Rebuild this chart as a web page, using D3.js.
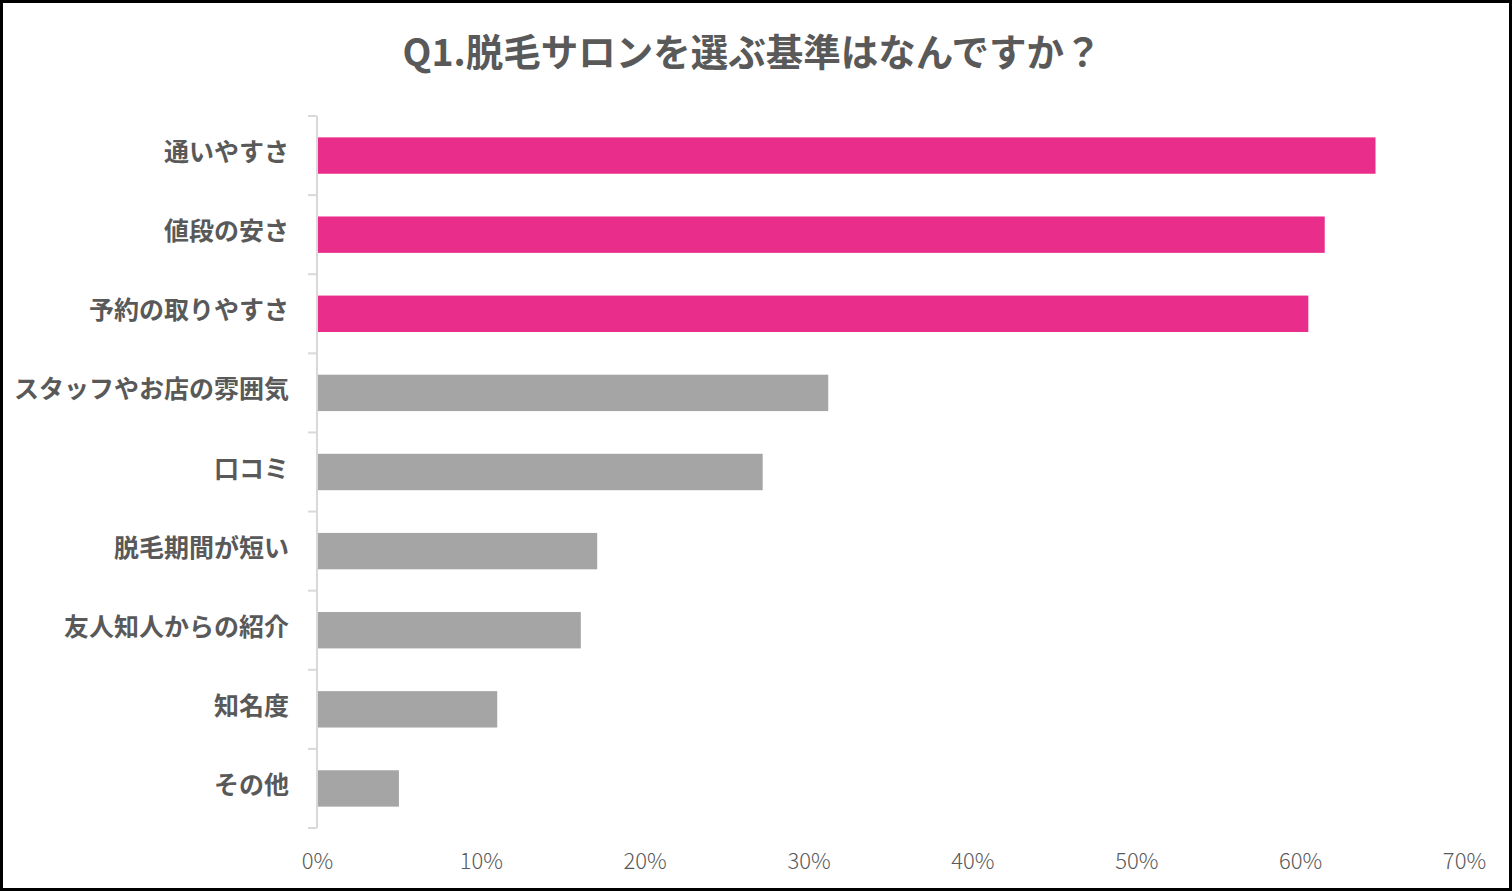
<!DOCTYPE html>
<html>
<head>
<meta charset="utf-8">
<script src="https://cdn.jsdelivr.net/npm/d3@7"></script>
<style>
  html, body { margin: 0; padding: 0; background: #fff; }
  .frame { fill: #fff; stroke: #000; stroke-width: 3; }
  .title { font-family: "Noto Sans CJK JP"; font-weight: 700; font-size: 37.5px; fill: #595959; }
  .cat text { font-family: "Noto Sans CJK JP"; font-weight: 700; font-size: 25px; fill: #595959; }
  .xaxis text { font-family: "Noto Sans CJK JP"; font-weight: 300; font-size: 22px; fill: #595959; }
</style>
</head>
<body>
<script>
(function(){

//chart data
var categories = ["通いやすさ", "値段の安さ", "予約の取りやすさ", "スタッフやお店の雰囲気", "口コミ", "脱毛期間が短い", "友人知人からの紹介", "知名度", "その他"];
var values = [64.6, 61.5, 60.5, 31.2, 27.2, 17.1, 16.1, 11.0, 5.0];
var highlighted = [true, true, true, false, false, false, false, false, false];
var xTicks = [0, 10, 20, 30, 40, 50, 60, 70];
var titleText = "Q1.脱毛サロンを選ぶ基準はなんですか？";

var width = 1512,
    height = 891;

var svg = d3.select("body")
    .append("svg")
    .attr("width", width)
    .attr("height", height);

//outer frame
svg.append("rect")
    .attr("class", "frame")
    .attr("x", 1.5)
    .attr("y", 1.5)
    .attr("width", width - 3)
    .attr("height", height - 3);

svg.append("text")
    .attr("class", "title")
    .attr("x", 752)
    .attr("y", 66)
    .attr("text-anchor", "middle")
    .text(titleText);

var x = d3.scaleLinear()
    .domain([0, 70])
    .range([317, 1464]);

var y = d3.scaleBand()
    .domain(categories)
    .range([116, 828])
    .paddingInner(0.54)
    .paddingOuter(0.27);

//bars
svg.selectAll(".bar")
    .data(categories)
    .enter()
    .append("rect")
    .attr("class", "bar")
    .attr("x", x(0))
    .attr("y", function(d){ return y(d); })
    .attr("width", function(d, i){ return x(values[i]) - x(0); })
    .attr("height", y.bandwidth())
    .attr("fill", function(d, i){ return highlighted[i] ? "#E92D8A" : "#A5A5A5"; });

//category axis with tick marks between categories
var cat = svg.append("g").attr("class", "cat");
cat.append("line")
    .attr("x1", 317).attr("x2", 317)
    .attr("y1", 116).attr("y2", 828)
    .attr("stroke", "#D9D9D9").attr("stroke-width", 2);

var bounds = d3.range(categories.length + 1).map(function(i){ return 116 + i * (712 / categories.length); });
cat.selectAll(".tk")
    .data(bounds)
    .enter()
    .append("line")
    .attr("x1", 308).attr("x2", 317)
    .attr("y1", function(d){ return d; })
    .attr("y2", function(d){ return d; })
    .attr("stroke", "#D9D9D9").attr("stroke-width", 2);

cat.selectAll(".lbl")
    .data(categories)
    .enter()
    .append("text")
    .attr("x", 289)
    .attr("y", function(d){ return y(d) + y.bandwidth() / 2; })
    .attr("dy", "0.22em")
    .attr("text-anchor", "end")
    .text(function(d){ return d; });

//value axis labels
var xAxis = d3.axisBottom(x)
    .tickValues(xTicks)
    .tickSize(0)
    .tickPadding(0)
    .tickFormat(function(d){ return d + "%"; });

var gx = svg.append("g")
    .attr("class", "xaxis")
    .attr("transform", "translate(0,862)")
    .call(xAxis);
gx.select(".domain").remove();
gx.selectAll("text").attr("dy", "0.3em").attr("y", 0);

})();
</script>
</body>
</html>
